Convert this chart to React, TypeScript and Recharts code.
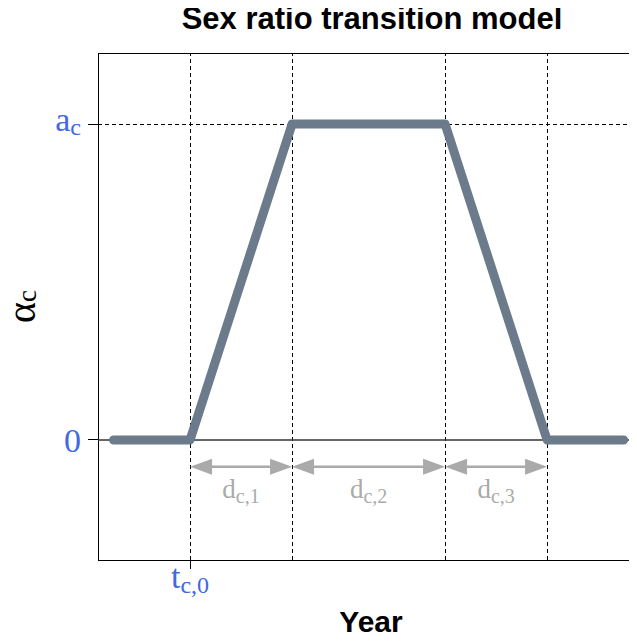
import React from 'react';
import { LineChart, Line, XAxis, YAxis, ReferenceLine, ReferenceArea, Label } from 'recharts';

// piecewise-linear sex ratio transition (years relative to t_c,0)
const years = [-3, 0, 4, 10, 14, 17];
const alphaValues = [0, 0, 1, 1, 0, 0];

// phase boundaries and their duration labels d_c,1 .. d_c,3
const phaseBreaks = [0, 4, 10, 14];
const phaseLabels = ['c,1', 'c,2', 'c,3'];
const arrowLevel = -0.085;

const xTicks = [0];
const yTicks = [0, 1];
const yTickMain = ['0', 'a'];
const yTickSub = ['', 'c'];

const xDomain: [number, number] = [-3.61, 17.8];
const yDomain: [number, number] = [-0.38, 1.225];

const data = years.map((x, i) => ({ x, alpha: alphaValues[i] }));
const phases = phaseLabels.map((label, i) => ({ from: phaseBreaks[i], to: phaseBreaks[i + 1], label }));

const SERIF = '"Liberation Serif", "Times New Roman", serif';
const SANS = '"Liberation Sans", Arial, sans-serif';
const BLUE = '#4169e1';
const LINE = '#6c7b8b';
const GREY = '#aaaaaa';

const XTick = (props: any) => {
  const { x, y } = props;
  return (
    <text x={x} y={y} dy={17} textAnchor="middle" fill={BLUE} fontFamily={SERIF} fontSize={34}>
      t<tspan fontSize={24} dy={5}>c,0</tspan>
    </text>
  );
};

const YTick = (props: any) => {
  const { x, y, payload } = props;
  const i = yTicks.indexOf(payload.value);
  const sub = yTickSub[i];
  return (
    <text x={x} y={y} dy={sub ? 7 : 12} textAnchor="end" fill={BLUE} fontFamily={SERIF} fontSize={34}>
      {yTickMain[i]}
      {sub && <tspan fontSize={24} dy={4}>{sub}</tspan>}
    </text>
  );
};

const makeArrow = (label: string) => (props: any) => {
  const { x1, y1, x2 } = props;
  const head = 22;
  const hw = 8;
  return (
    <g>
      <line x1={x1 + 4} y1={y1} x2={x2 - 4} y2={y1} stroke={GREY} strokeWidth={2.4} />
      <polygon points={`${x1},${y1} ${x1 + head},${y1 - hw} ${x1 + head},${y1 + hw}`} fill={GREY} />
      <polygon points={`${x2},${y1} ${x2 - head},${y1 - hw} ${x2 - head},${y1 + hw}`} fill={GREY} />
      <text x={(x1 + x2) / 2} y={y1 + 31} textAnchor="middle" fill={GREY} fontFamily={SERIF} fontSize={27}>
        d<tspan fontSize={20} dy={5}>{label}</tspan>
      </text>
    </g>
  );
};

const App: React.FC = () => {
  return (
    <div style={{ position: 'relative', width: 637, height: 644, overflow: 'hidden', margin: -8, background: '#fff' }}>
      <div style={{ position: 'absolute', left: 0, top: 0 }}>
        <LineChart width={660} height={644} data={data} margin={{ top: 53, right: 16, bottom: 0, left: 0 }}>
          <XAxis
            type="number"
            dataKey="x"
            domain={xDomain}
            ticks={xTicks}
            allowDataOverflow
            height={84}
            tickSize={9}
            tickMargin={2}
            axisLine={false}
            tickLine={{ stroke: '#000', shapeRendering: 'crispEdges' }}
            tick={<XTick />}
          >
            <Label
              content={(p: any) => {
                const vb = p.viewBox;
                return (
                  <text x={vb.x + vb.width / 2} y={vb.y + 72} textAnchor="middle" fontFamily={SANS} fontWeight="bold" fontSize={30} fill="#000">
                    Year
                  </text>
                );
              }}
            />
          </XAxis>
          <YAxis
            type="number"
            domain={yDomain}
            ticks={yTicks}
            allowDataOverflow
            width={98}
            tickSize={10}
            tickMargin={7}
            axisLine={false}
            tickLine={{ stroke: '#000', shapeRendering: 'crispEdges' }}
            tick={<YTick />}
          >
            <Label
              content={(p: any) => {
                const vb = p.viewBox;
                const cx = 35;
                const cy = vb.y + vb.height / 2;
                return (
                  <text x={cx} y={cy} transform={`rotate(-90 ${cx} ${cy})`} textAnchor="middle" fontFamily={SERIF} fontSize={40} fill="#000">
                    α<tspan fontSize={27} dy={1}>c</tspan>
                  </text>
                );
              }}
            />
          </YAxis>
          <ReferenceArea
            x1={xDomain[0]}
            x2={xDomain[1]}
            y1={yDomain[0]}
            y2={yDomain[1]}
            fill="none"
            fillOpacity={0}
            stroke="#000"
            strokeWidth={1}
            shapeRendering="crispEdges"
          />
          {phaseBreaks.map((b) => (
            <ReferenceLine key={'v' + b} x={b} stroke="#000" strokeDasharray="4 3" strokeWidth={1} shapeRendering="crispEdges" />
          ))}
          <ReferenceLine y={1} stroke="#000" strokeDasharray="4 3" strokeWidth={1} shapeRendering="crispEdges" />
          <ReferenceLine y={0} stroke="#333" strokeWidth={1.4} />
          {phases.map((ph) => (
            <ReferenceLine
              key={ph.label}
              segment={[{ x: ph.from, y: arrowLevel }, { x: ph.to, y: arrowLevel }]}
              shape={makeArrow(ph.label)}
            />
          ))}
          <Line
            type="linear"
            dataKey="alpha"
            stroke={LINE}
            strokeWidth={9}
            strokeLinecap="round"
            strokeLinejoin="round"
            dot={false}
            activeDot={false}
            isAnimationActive={false}
          />
        </LineChart>
      </div>
      <svg width={637} height={44} style={{ position: 'absolute', left: 0, top: 0 }}>
        <text x={372} y={29} textAnchor="middle" fontFamily={SANS} fontWeight="bold" fontSize={31} fill="#000">
          Sex ratio transition model
        </text>
      </svg>
    </div>
  );
};

export default App;
